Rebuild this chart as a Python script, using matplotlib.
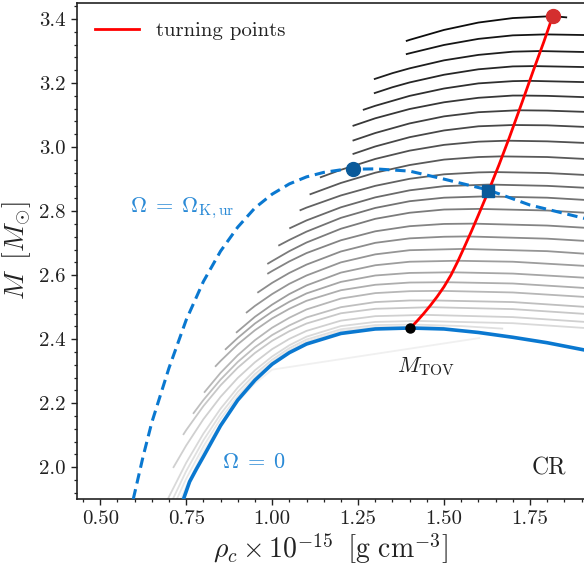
import numpy as np
import matplotlib
matplotlib.use("Agg")
import matplotlib.pyplot as plt

plt.rcParams['font.family'] = 'serif'
plt.rcParams['font.serif'] = ['cmr10', 'DejaVu Serif']
plt.rcParams['mathtext.fontset'] = 'cm'
plt.rcParams['axes.formatter.use_mathtext'] = True

# ---------------- data ----------------
# constant-J sequences (top = darkest ... bottom = lightest)
rho_j01 = [1.389, 1.40, 1.50, 1.60, 1.70, 1.816, 1.858]
M_j01 = [3.331, 3.335, 3.366, 3.389, 3.403, 3.409, 3.405]
rho_j02 = [1.389, 1.40, 1.50, 1.60, 1.70, 1.795, 1.91]
M_j02 = [3.290, 3.293, 3.319, 3.338, 3.349, 3.352, 3.350]
rho_j03 = [1.296, 1.35, 1.40, 1.50, 1.60, 1.70, 1.778, 1.91]
M_j03 = [3.212, 3.231, 3.246, 3.271, 3.288, 3.298, 3.300, 3.297]
rho_j04 = [1.296, 1.35, 1.40, 1.50, 1.60, 1.70, 1.761, 1.91]
M_j04 = [3.168, 3.187, 3.202, 3.226, 3.243, 3.252, 3.253, 3.250]
rho_j05 = [1.264, 1.30, 1.40, 1.50, 1.60, 1.70, 1.746, 1.91]
M_j05 = [3.116, 3.129, 3.160, 3.183, 3.199, 3.206, 3.207, 3.203]
rho_j06 = [1.234, 1.30, 1.40, 1.50, 1.60, 1.70, 1.731, 1.80, 1.91]
M_j06 = [3.066, 3.090, 3.119, 3.140, 3.154, 3.161, 3.161, 3.160, 3.156]
rho_j07 = [1.234, 1.30, 1.40, 1.50, 1.60, 1.716, 1.80, 1.91]
M_j07 = [3.020, 3.044, 3.074, 3.096, 3.109, 3.115, 3.114, 3.110]
rho_j08 = [1.234, 1.30, 1.40, 1.50, 1.60, 1.70, 1.80, 1.91]
M_j08 = [2.978, 3.002, 3.031, 3.052, 3.065, 3.069, 3.068, 3.063]
rho_j09 = [1.139, 1.20, 1.30, 1.40, 1.50, 1.60, 1.683, 1.80, 1.91]
M_j09 = [2.905, 2.929, 2.963, 2.989, 3.007, 3.017, 3.020, 3.018, 3.013]
rho_j10 = [1.109, 1.20, 1.30, 1.40, 1.50, 1.60, 1.665, 1.80, 1.91]
M_j10 = [2.852, 2.888, 2.920, 2.944, 2.961, 2.969, 2.971, 2.969, 2.963]
rho_j11 = [1.080, 1.10, 1.20, 1.30, 1.40, 1.50, 1.60, 1.648, 1.80, 1.91]
M_j11 = [2.802, 2.811, 2.849, 2.879, 2.901, 2.915, 2.921, 2.922, 2.919, 2.913]
rho_j12 = [1.050, 1.10, 1.20, 1.30, 1.40, 1.50, 1.632, 1.80, 1.91]
M_j12 = [2.746, 2.771, 2.812, 2.843, 2.865, 2.878, 2.883, 2.879, 2.873]
rho_j13 = [1.018, 1.05, 1.10, 1.20, 1.30, 1.40, 1.50, 1.617, 1.80, 1.91]
M_j13 = [2.692, 2.710, 2.736, 2.779, 2.810, 2.831, 2.842, 2.846, 2.842, 2.835]
rho_j14 = [0.986, 1.00, 1.05, 1.10, 1.20, 1.30, 1.40, 1.50, 1.601, 1.80, 1.91]
M_j14 = [2.635, 2.644, 2.675, 2.702, 2.745, 2.776, 2.795, 2.805, 2.807, 2.802, 2.795]
rho_j15 = [0.986, 1.00, 1.05, 1.10, 1.20, 1.30, 1.40, 1.50, 1.583, 1.80, 1.91]
M_j15 = [2.604, 2.613, 2.643, 2.669, 2.709, 2.737, 2.753, 2.760, 2.761, 2.755, 2.748]
rho_j16 = [0.957, 1.00, 1.05, 1.10, 1.20, 1.30, 1.40, 1.50, 1.567, 1.80, 1.91]
M_j16 = [2.545, 2.576, 2.607, 2.633, 2.674, 2.701, 2.715, 2.720, 2.721, 2.714, 2.707]
rho_j17 = [0.924, 0.95, 1.00, 1.05, 1.10, 1.20, 1.30, 1.40, 1.554, 1.80, 1.91]
M_j17 = [2.482, 2.504, 2.541, 2.573, 2.599, 2.640, 2.665, 2.678, 2.682, 2.675, 2.667]
rho_j18 = [0.895, 0.95, 1.00, 1.05, 1.10, 1.20, 1.30, 1.40, 1.538, 1.70, 1.91]
M_j18 = [2.420, 2.470, 2.508, 2.541, 2.568, 2.608, 2.631, 2.642, 2.645, 2.642, 2.629]
rho_j19 = [0.863, 0.90, 0.95, 1.00, 1.05, 1.10, 1.20, 1.30, 1.40, 1.521, 1.70, 1.91]
M_j19 = [2.367, 2.404, 2.449, 2.486, 2.517, 2.543, 2.579, 2.599, 2.607, 2.609, 2.605, 2.592]
rho_j20 = [0.834, 0.85, 0.90, 0.95, 1.00, 1.05, 1.10, 1.20, 1.30, 1.40, 1.507, 1.70, 1.91]
M_j20 = [2.314, 2.332, 2.384, 2.428, 2.465, 2.495, 2.520, 2.553, 2.570, 2.577, 2.578, 2.574, 2.560]
rho_j21 = [0.802, 0.85, 0.90, 0.95, 1.00, 1.05, 1.10, 1.20, 1.30, 1.40, 1.493, 1.70, 1.91]
M_j21 = [2.233, 2.295, 2.350, 2.397, 2.436, 2.467, 2.493, 2.527, 2.544, 2.550, 2.551, 2.546, 2.532]
rho_j22 = [0.770, 0.80, 0.85, 0.90, 0.95, 1.00, 1.05, 1.10, 1.20, 1.30, 1.40, 1.475, 1.70, 1.91]
M_j22 = [2.167, 2.210, 2.274, 2.329, 2.375, 2.413, 2.443, 2.468, 2.500, 2.516, 2.521, 2.521, 2.516, 2.501]
rho_j23 = [0.741, 0.75, 0.80, 0.85, 0.90, 0.95, 1.00, 1.05, 1.10, 1.20, 1.30, 1.463, 1.70, 1.91]
M_j23 = [2.101, 2.116, 2.191, 2.256, 2.311, 2.357, 2.395, 2.425, 2.449, 2.481, 2.495, 2.500, 2.494, 2.479]
rho_j24 = [0.712, 0.75, 0.80, 0.85, 0.90, 0.95, 1.00, 1.05, 1.10, 1.20, 1.30, 1.447, 1.70, 1.91]
M_j24 = [1.998, 2.068, 2.150, 2.220, 2.279, 2.328, 2.369, 2.401, 2.426, 2.458, 2.472, 2.476, 2.469, 2.454]
rho_j25 = [0.688, 0.70, 0.75, 0.80, 0.85, 0.90, 0.95, 1.00, 1.05, 1.10, 1.20, 1.30, 1.425, 1.70, 1.91]
M_j25 = [1.880, 1.908, 2.014, 2.105, 2.183, 2.249, 2.303, 2.346, 2.381, 2.408, 2.441, 2.454, 2.457, 2.450, 2.435]
rho_j26 = [0.702, 0.75, 0.80, 0.85, 0.90, 0.95, 1.00, 1.05, 1.10, 1.20, 1.30, 1.41, 1.55, 1.672]
M_j26 = [1.880, 1.988, 2.084, 2.166, 2.235, 2.291, 2.336, 2.372, 2.399, 2.431, 2.444, 2.446, 2.441, 2.433]
rho_j27 = [0.714, 0.75, 0.80, 0.85, 0.90, 0.95, 1.00, 1.05, 1.10, 1.20, 1.30, 1.40, 1.50]
M_j27 = [1.880, 1.964, 2.065, 2.151, 2.223, 2.282, 2.329, 2.366, 2.393, 2.426, 2.438, 2.440, 2.437]
rho_j28 = [0.726, 0.75, 0.80, 0.85, 0.90, 0.95, 1.00, 1.605]
M_j28 = [1.880, 1.940, 2.050, 2.135, 2.205, 2.262, 2.305, 2.404]

# non-rotating sequence (Omega = 0)
rho_static = [0.742, 0.76, 0.78, 0.80, 0.85, 0.90, 0.95, 1.00, 1.05, 1.10, 1.20, 1.30,
              1.401, 1.50, 1.60, 1.70, 1.80, 1.91]
M_static = [1.900, 1.955, 1.995, 2.033, 2.130, 2.210, 2.272, 2.322, 2.358, 2.385, 2.418, 2.432,
            2.435, 2.432, 2.421, 2.406, 2.389, 2.366]

# Keplerian (mass-shedding) sequence
rho_kep = [0.596, 0.625, 0.65, 0.70, 0.75, 0.80, 0.85, 0.90, 0.95, 1.00, 1.05, 1.10, 1.15,
           1.20, 1.236, 1.30, 1.40, 1.50, 1.629, 1.75, 1.91]
M_kep = [1.900, 2.035, 2.140, 2.310, 2.460, 2.580, 2.675, 2.750, 2.810, 2.853, 2.885, 2.907,
         2.921, 2.929, 2.931, 2.932, 2.925, 2.900, 2.866, 2.819, 2.777]

# turning points
rho_turn = [1.401, 1.42, 1.44, 1.46, 1.48, 1.50, 1.52, 1.54, 1.56, 1.58, 1.60, 1.629,
            1.66, 1.69, 1.727, 1.76, 1.79, 1.816]
M_turn = [2.434, 2.455, 2.479, 2.505, 2.533, 2.564, 2.600, 2.643, 2.690, 2.738, 2.788, 2.862,
          2.945, 3.030, 3.140, 3.240, 3.328, 3.409]

# special points
rho_tov, M_tov = 1.401, 2.435
rho_top, M_top = 1.816, 3.409
rho_kmax, M_kmax = 1.236, 2.931
rho_cross, M_cross = 1.629, 2.864

x_ticks = [0.50, 0.75, 1.00, 1.25, 1.50, 1.75]
y_ticks = [2.0, 2.2, 2.4, 2.6, 2.8, 3.0, 3.2, 3.4]

# ---------------- plotting ----------------
seqs = [(rho_j01, M_j01), (rho_j02, M_j02), (rho_j03, M_j03), (rho_j04, M_j04),
        (rho_j05, M_j05), (rho_j06, M_j06), (rho_j07, M_j07), (rho_j08, M_j08),
        (rho_j09, M_j09), (rho_j10, M_j10), (rho_j11, M_j11), (rho_j12, M_j12),
        (rho_j13, M_j13), (rho_j14, M_j14), (rho_j15, M_j15), (rho_j16, M_j16),
        (rho_j17, M_j17), (rho_j18, M_j18), (rho_j19, M_j19), (rho_j20, M_j20),
        (rho_j21, M_j21), (rho_j22, M_j22), (rho_j23, M_j23), (rho_j24, M_j24),
        (rho_j25, M_j25), (rho_j26, M_j26), (rho_j27, M_j27), (rho_j28, M_j28)]
greys = list(np.linspace(0.05, 0.85, 25)) + [0.88, 0.91, 0.94]

fig = plt.figure(figsize=(5.84, 5.72), dpi=100)
ax = fig.add_axes([76.7 / 584, 72.7 / 572, 508.3 / 584, 496.6 / 572])

for (r, m), g in zip(seqs, greys):
    ax.plot(r, m, color=str(g), lw=1.3, zorder=1, solid_capstyle='butt',
            solid_joinstyle='round')

blue = '#0a78d0'
ax.plot(rho_static, M_static, color=blue, lw=2.6, zorder=3, solid_joinstyle='round')
ax.plot(rho_kep, M_kep, color=blue, lw=2.2, ls=(0, (3.4, 1.9)), zorder=3)
ax.plot(rho_turn, M_turn, color='#ff0000', lw=2.0, zorder=4, label='turning points',
        solid_joinstyle='round')

ax.plot([rho_tov], [M_tov], 'o', color='black', ms=6.5, zorder=5)
ax.plot([rho_top], [M_top], 'o', color='#d42f2f', ms=10, zorder=5)
ax.plot([rho_kmax], [M_kmax], 'o', color='#0a5a9a', ms=10, zorder=5)
ax.plot([rho_cross], [M_cross], 's', color='#0a5a9a', ms=9, zorder=5)

txt_blue = '#2a8ad6'
ax.text(0.587, 2.797, r'$\Omega\;=\;\Omega_{\rm K,ur}$', color=txt_blue, fontsize=16,
        ha='left', va='baseline')
ax.text(0.855, 1.998, r'$\Omega\;=\;0$', color=txt_blue, fontsize=16,
        ha='left', va='baseline')
ax.text(1.363, 2.298, r'$M_{\rm TOV}$', color='#222222', fontsize=16,
        ha='left', va='baseline')
ax.text(1.755, 1.977, 'CR', color='#222222', fontsize=17, ha='left', va='baseline')

ax.set_xlim(0.4316, 1.910)
ax.set_ylim(1.9, 3.451)
ax.set_xticks(x_ticks)
ax.set_yticks(y_ticks)
ax.set_xticklabels(['%.2f' % v for v in x_ticks])
ax.set_yticklabels(['%.1f' % v for v in y_ticks])
ax.set_xticks(np.arange(0.45, 1.91, 0.05), minor=True)
ax.set_yticks(np.arange(1.92, 3.45, 0.04), minor=True)
ax.tick_params(which='major', direction='out', length=4.5, width=1.0, labelsize=15,
               colors='#222222')
ax.tick_params(which='minor', direction='out', length=2.5, width=0.9, colors='#222222')
for s in ax.spines.values():
    s.set_linewidth(1.2)
    s.set_color('#222222')

ax.set_xlabel(r'$\rho_c \times 10^{-15}\;\;\left[{\rm g\ cm^{-3}}\right]$', fontsize=20,
              color='#222222', labelpad=2)
ax.set_ylabel(r'$M\;\;[M_{\odot}]$', fontsize=20, color='#222222', labelpad=4)

leg = ax.legend(loc='upper left', frameon=False, fontsize=15, handlelength=2.1,
                handletextpad=0.8)
for t in leg.get_texts():
    t.set_color('#222222')

fig.savefig('out.png', dpi=100)
